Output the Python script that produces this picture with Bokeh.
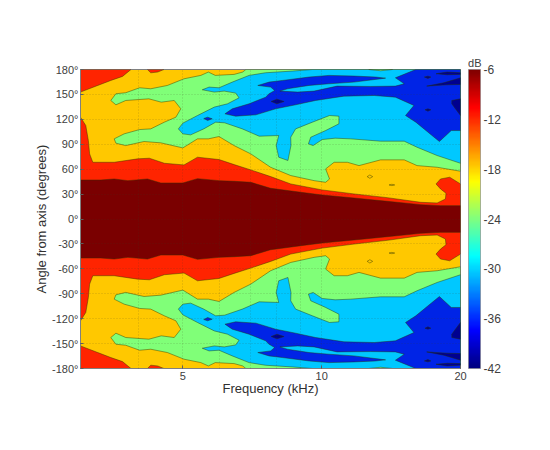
from bokeh.plotting import figure
from bokeh.models import Range1d, FixedTicker, ColorBar, LinearColorMapper, ColumnDataSource, Title
from bokeh.embed import file_html
from bokeh.resources import INLINE
import numpy as np

# --- Axis data ------------------------------------------------------------
ANGLE_TICKS = [-180, -150, -120, -90, -60, -30, 0, 30, 60, 90, 120, 150, 180]
ANGLE_LABELS = ["-180°", "-150°", "-120°", "-90°", "-60°", "-30°", "0°", "30°", "60°", "90°", "120°", "150°", "180°"]
FREQ_TICKS = [5, 10, 20]
FREQ_MINOR = [3, 4, 6, 7, 8, 9]
DB_TICKS = [-42, -36, -30, -24, -18, -12, -6]

# --- Level colours (bands of the contour plot) -----------------------------
C_DARKRED = "#7A0000"
C_RED = "#FF2400"
C_ORANGE = "#FFC800"
C_GREEN = "#80FF78"
C_CYAN = "#00C8FF"
C_BLUE = "#0024E6"
C_NAVY = "#000090"

# --- Contour regions, upper half: frequency (kHz), angle (deg) --------------
CORE_F = [3.00, 3.32, 3.55, 3.80, 4.19, 4.48, 5.00, 5.38, 5.99, 6.46, 7.02, 7.75, 9.01, 10.03, 11.75, 13.87, 16.4, 18.1, 20]
CORE_A = [47.0, 47.0, 48.2, 46.2, 48.2, 43.4, 43.4, 48.6, 46.2, 45.4, 44.2, 37.0, 32.2, 28.9, 25.3, 21.3, 17.3, 16.1, 16.1]

RED_F = [3.00, 3.08, 3.12, 3.14, 3.19, 3.55, 3.99, 4.23, 4.56, 5.03, 5.38, 5.99, 6.46, 7.02, 7.75, 8.57, 10.03, 11.75, 13.87, 16.4, 17.8, 18.55, 18.6, 18.1, 17.7, 18.1, 18.95, 20]
RED_A = [122.6, 112.6, 94.5, 78.4, 68.3, 68.3, 72.4, 73.2, 67.1, 65.1, 74.4, 71.6, 65.5, 59.1, 51.1, 42.2, 35.0, 30.2, 25.7, 20.1, 19.3, 24.1, 31.0, 36.2, 42.2, 48.2, 50.3, 42.2]

CORNER_F = [3.00, 3.00, 3.27, 3.49, 3.70, 3.86]
CORNER_A = [180, 152.8, 160.8, 166.8, 171.7, 180]
SPECK_F = [4.19, 4.26, 4.41, 4.55]
SPECK_A = [180, 176, 176.9, 180]

GREEN_F = [3.55, 3.58, 3.76, 4.12, 4.48, 5.00, 5.38, 5.68, 5.99, 6.46, 7.02, 7.75, 8.57, 9.63, 10.2, 10.4, 10.2, 10.64, 11.37, 12.05, 13.42, 15.1, 16.1, 17.8, 20, 20,
           6.85, 6.74, 6.46, 5.88, 5.68, 5.47, 5.03, 4.63, 4.26, 4.03, 3.76, 3.58, 3.49, 3.58, 3.76, 4.22, 4.49, 4.79, 4.95, 4.83, 4.56, 4.26, 4.03, 3.73]
GREEN_A = [96.5, 91.3, 88.4, 93.3, 91.7, 85.6, 96.5, 96.5, 99.3, 88.4, 78.4, 62.3, 52.3, 46.2, 44.2, 48.2, 60.3, 68.3, 68.3, 64.3, 71.2, 71.2, 64.3, 62.3, 57.5, 180,
           180, 176.9, 174.1, 172.9, 176.9, 172.9, 168.8, 160.8, 156.8, 158, 152, 150.8, 142.7, 137.5, 142.7, 144.7, 140.7, 142.7, 132.7, 122.6, 116.6, 108.5, 107.7, 102.5]

CYAN_F = [4.89, 5.00, 5.38, 5.85, 6.25, 6.62, 6.51, 6.15, 5.85, 5.51, 5.70, 5.99, 6.40, 6.96, 7.56, 8.64, 9.55, 20,
          20, 17.8, 16.1, 15.1, 13.42, 11.56, 10.7, 10.03, 9.58, 9.36, 9.47, 10.2, 10.9, 10.9, 10.4, 9.55, 8.78, 8.57, 8.58, 8.45, 8.07, 7.97, 8.07, 7.32, 6.73, 6.16, 5.89, 5.55, 5.20, 5.00]
CYAN_A = [108.5, 115.4, 124.6, 134.7, 138.7, 145.9, 151.6, 154, 152.8, 155.6, 158.8, 158, 164.8, 172.9, 176.1, 178.1, 180, 180,
          67.1, 76.4, 86.4, 93.7, 93.7, 96.5, 97.3, 95.7, 88.4, 90.5, 98.5, 106.5, 114.6, 123.8, 124.6, 116.6, 108.5, 98.5, 88.4, 70.4, 74.4, 88.4, 100.5, 99.7, 108.5, 115.8, 116.6, 108.5, 101.3, 102.5]

SLIVER_F = [12.65, 13.42, 14.25]
SLIVER_A = [180, 178.5, 180]

BLUE_F = [16.0, 20, 20, 19.1, 18.0, 17.35, 16.0, 15.2, 15.85, 14.45, 13.0, 11.18, 9.7, 8.78, 7.95, 7.2, 6.51, 6.17, 6.40, 6.96, 7.56, 7.69, 7.91, 7.75, 7.27, 7.69, 8.22, 9.39, 10.37, 11.75, 13.1, 13.76, 11.75, 10.37, 9.39, 8.43, 8.12, 8.87, 9.63, 10.8, 12.77, 14.45, 15.1, 14.45]
BLUE_A = [180, 180, 106.5, 106.5, 93.3, 100.5, 116.6, 124.6, 136.7, 146.7, 148.7, 147.9, 142.7, 137.5, 132.7, 125.4, 123.8, 126.6, 132.7, 138.7, 146.7, 150.8, 154.8, 158.8, 160.8, 164.8, 166.8, 170.9, 172.9, 172.1, 170.9, 169.6, 164.8, 162.8, 160.8, 156.8, 154, 152.8, 154, 160, 159.6, 160, 162.8, 170]

BLUE_DOT_F = [5.55, 5.66, 5.79, 5.66]
BLUE_DOT_A = [121, 122.6, 120.6, 118.6]

NAVY1_F = [7.77, 8.0, 8.29, 8.0]
NAVY1_A = [141.5, 144.3, 141.5, 138.7]
NAVY2_F = [16.7, 17.0, 17.25, 17.0]
NAVY2_A = [170.9, 172, 170.9, 169.2]
NAVY3_F = [16.75, 17, 17.25, 17]
NAVY3_A = [131.5, 132.7, 131.5, 129.8]
NAVY4_F = [17.7, 18.7, 20, 20, 18.7]
NAVY4_A = [174.9, 176.9, 176.1, 174.1, 173.7]
NAVY5_F = [16.9, 18.4, 20, 20, 18.7]
NAVY5_A = [160, 164, 170, 162, 161.6]
NAVY6_F = [19.15, 20, 20, 19.5, 19.15]
NAVY6_A = [142.7, 144.7, 124.6, 132.7, 138.7]

RING1_F = [12.55, 12.72, 12.9, 12.72]
RING1_A = [51, 53, 51, 49]
RING2_F = [14.0, 14.2, 14.4, 14.2]
RING2_A = [41, 41.8, 41, 40.2]

# Regions painted in order; each is mirrored to negative angles.
OPEN_REGIONS = [
    (GREEN_F, GREEN_A, C_GREEN),
    (CYAN_F, CYAN_A, C_CYAN),
    (SLIVER_F, SLIVER_A, C_GREEN),
    (BLUE_F, BLUE_A, C_BLUE),
    (BLUE_DOT_F, BLUE_DOT_A, C_BLUE),
    (NAVY1_F, NAVY1_A, C_NAVY),
    (NAVY2_F, NAVY2_A, C_NAVY),
    (NAVY3_F, NAVY3_A, C_NAVY),
    (NAVY4_F, NAVY4_A, C_NAVY),
    (NAVY5_F, NAVY5_A, C_NAVY),
    (NAVY6_F, NAVY6_A, C_NAVY),
    (CORNER_F, CORNER_A, C_RED),
    (SPECK_F, SPECK_A, C_RED),
    (RING1_F, RING1_A, C_ORANGE),
    (RING2_F, RING2_A, C_ORANGE),
]
# Regions that span across 0 degrees: closed with their own mirror image.
BRIDGED_REGIONS = [
    (RED_F, RED_A, C_RED),
    (CORE_F, CORE_A, C_DARKRED),
]

xs, ys, cs = [], [], []
for f, a, c in OPEN_REGIONS:
    xs.append(list(f)); ys.append(list(a)); cs.append(c)
    xs.append(list(f)); ys.append([-v for v in a]); cs.append(c)
for f, a, c in BRIDGED_REGIONS:
    xs.append(list(f) + list(f)[::-1]); ys.append(list(a) + [-v for v in a][::-1]); cs.append(c)

TEXT = "#404040"
FONT = "Liberation Sans"

p = figure(width=534, height=434, frame_width=380, frame_height=299,
           x_axis_type="log", x_range=Range1d(3, 20), y_range=Range1d(-180, 180),
           output_backend="svg", toolbar_location=None,
           min_border_left=80, min_border_top=69, min_border_bottom=66, min_border_right=74,
           border_fill_color="white")
p.background_fill_color = C_ORANGE
p.outline_line_color = "#808080"

p.patches("xs", "ys", fill_color="cs", line_color="#2a3300", line_width=0.8, line_alpha=0.55,
          source=ColumnDataSource(dict(xs=xs, ys=ys, cs=cs)))

xax = p.xaxis[0]
xax.ticker = FixedTicker(ticks=FREQ_TICKS, minor_ticks=FREQ_MINOR)
xax.major_label_overrides = {t: str(t) for t in FREQ_TICKS}
xax.axis_label = "Frequency (kHz)"
yax = p.yaxis[0]
yax.ticker = FixedTicker(ticks=ANGLE_TICKS)
yax.major_label_overrides = dict(zip(ANGLE_TICKS, ANGLE_LABELS))
yax.axis_label = "Angle from axis (degrees)"
for ax in (xax, yax):
    ax.axis_label_text_font = FONT
    ax.axis_label_text_font_size = "13px"
    ax.axis_label_text_font_style = "normal"
    ax.axis_label_text_color = "#303030"
    ax.major_label_text_font = FONT
    ax.major_label_text_font_size = "11px"
    ax.major_label_text_color = TEXT
    ax.major_tick_in = 3
    ax.major_tick_out = 0
    ax.minor_tick_in = 0
    ax.minor_tick_out = 0
    ax.major_tick_line_color = "#606060"
    ax.axis_line_color = "#808080"
xax.major_label_standoff = 3
xax.axis_label_standoff = -2
yax.major_label_standoff = 2
yax.axis_label_standoff = 0

for g in (p.xgrid[0], p.ygrid[0]):
    g.level = "overlay"
    g.grid_line_color = "#404020"
    g.grid_line_alpha = 0.3
    g.grid_line_dash = "1 2"
    g.grid_line_width = 0.8
p.xgrid[0].ticker = FixedTicker(ticks=FREQ_TICKS, minor_ticks=FREQ_MINOR)
p.xgrid[0].minor_grid_line_color = "#404020"
p.xgrid[0].minor_grid_line_alpha = 0.3
p.xgrid[0].minor_grid_line_dash = "1 2"
p.xgrid[0].minor_grid_line_width = 0.8

# Jet colour map
def jet(t):
    r = np.clip(1.5 - np.abs(4 * t - 3), 0, 1)
    g = np.clip(1.5 - np.abs(4 * t - 2), 0, 1)
    b = np.clip(1.5 - np.abs(4 * t - 1), 0, 1)
    return "#%02x%02x%02x" % (int(r * 255), int(g * 255), int(b * 255))

JET = [jet(i / 255) for i in range(256)]
mapper = LinearColorMapper(palette=JET, low=DB_TICKS[0], high=DB_TICKS[-1])
cb = ColorBar(color_mapper=mapper, width=12, height=299, margin=0, padding=0,
              location=(388, 0), ticker=FixedTicker(ticks=DB_TICKS),
              major_label_overrides={t: str(t) for t in DB_TICKS},
              major_label_text_font=FONT, major_label_text_font_size="12px",
              major_label_text_color=TEXT, major_tick_line_color=None,
              minor_tick_line_color=None, label_standoff=3,
              bar_line_color="#808080", bar_line_width=0.6,
              background_fill_color=None, border_line_color=None)
p.add_layout(cb)
p.add_layout(Title(text="dB", align="right", offset=-21, standoff=1, text_font=FONT,
                   text_font_size="11px", text_font_style="normal", text_color=TEXT), "above")

open("out.html", "w").write(file_html(p, INLINE))
